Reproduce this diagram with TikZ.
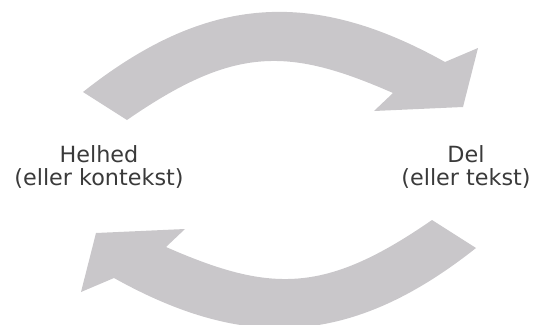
\documentclass[tikz,border=0pt]{standalone}
\usepackage{fontspec}
\setmainfont{DejaVu Sans}
\definecolor{arrowgray}{RGB}{201,199,202}
\definecolor{labelgray}{RGB}{58,58,58}
\tikzset{
  bigarrow/.style={fill=arrowgray, draw=none},
  cyclelabel/.style={text=labelgray, align=center, inner sep=0pt,
    font=\fontsize{22.3}{23.5}\selectfont},
  % one broad curved arrow, tail on the left, head pointing down-right
  cyclearrow/.pic={
    \fill[bigarrow]
      (83,92) .. controls (208,-7) and (314,-11) .. (445,62)
      -- (478,48) -- (463,107) -- (374,111) -- (393,93)
      .. controls (288,47) and (234,46) .. (127,120)
      -- cycle;
  }
}
\begin{document}
\begin{tikzpicture}[x=1pt, y=-1pt]
\useasboundingbox (0,0) rectangle (535,324);

% upper arrow: from the whole towards the part
\pic at (0,0) {cyclearrow};
% lower arrow: the same shape turned half a circle
\pic[rotate=180] at (559,340) {cyclearrow};

\node[cyclelabel] (whole) at (99,167) {Helhed\\(eller kontekst)};
\node[cyclelabel] (part) at (466,167) {Del\\(eller tekst)};
\end{tikzpicture}
\end{document}
